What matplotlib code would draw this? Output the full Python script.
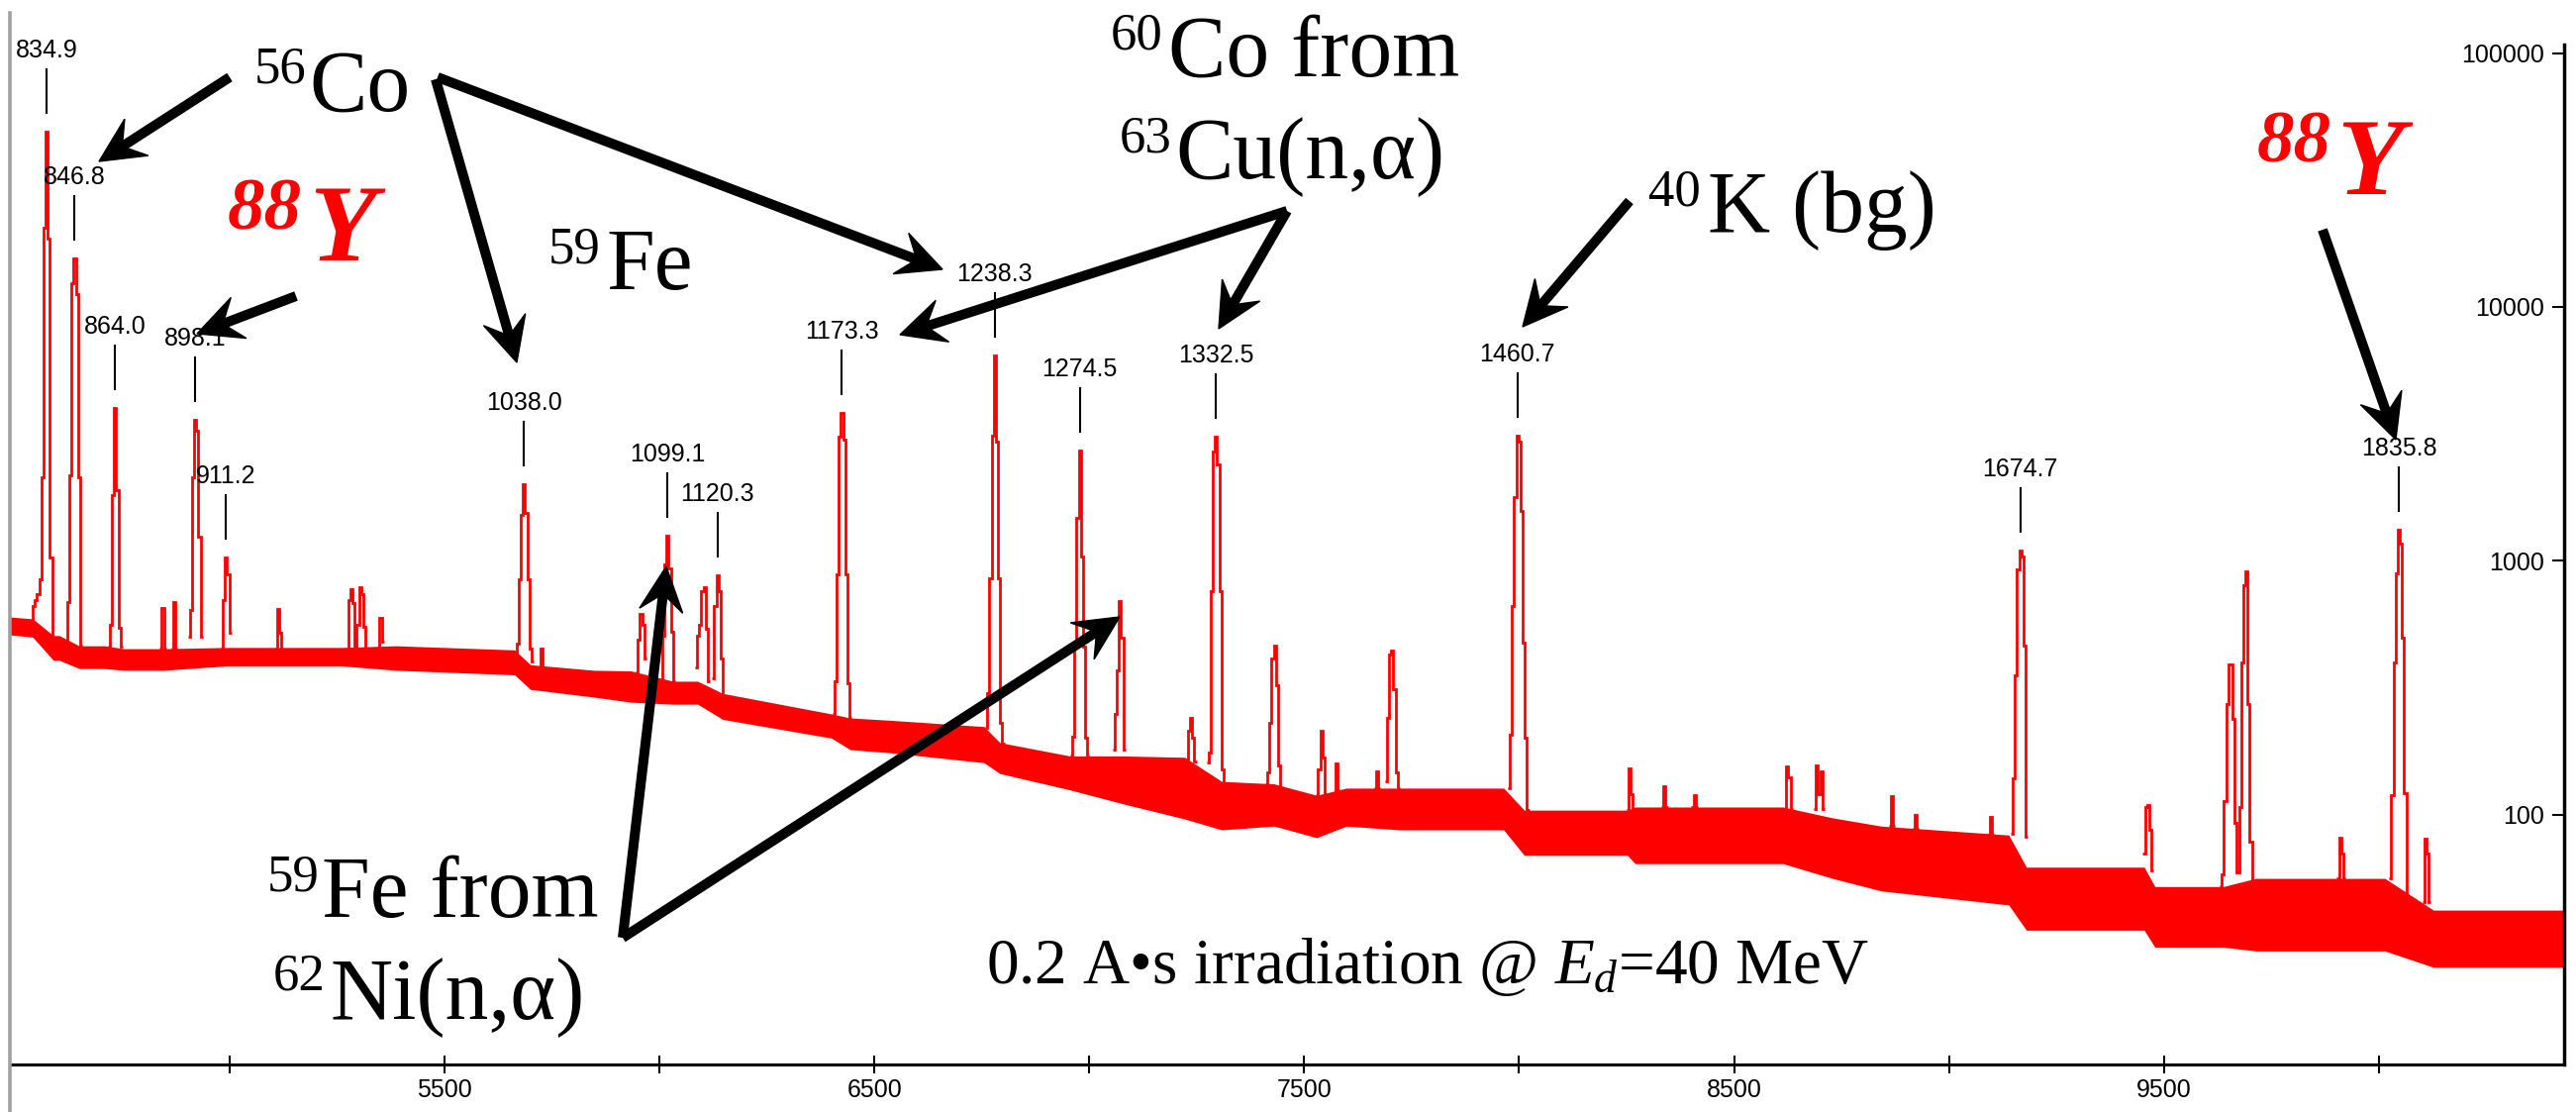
#!/usr/bin/env python
# Filename: plot.py
"""
introduction: redraw of a gamma spectrum (log counts vs channel) with peak
energies and nuclide annotations, values read off the reference picture.
"""

import numpy as np
import matplotlib
matplotlib.use('Agg')
import matplotlib.pyplot as plt
from matplotlib.patches import Polygon
from matplotlib.lines import Line2D
from matplotlib.ticker import NullLocator

plt.rcParams['font.family'] = ['Liberation Sans', 'DejaVu Sans']
plt.rcParams['mathtext.fontset'] = 'custom'
plt.rcParams['mathtext.rm'] = 'Liberation Serif'
plt.rcParams['mathtext.it'] = 'Liberation Serif:italic'

W, H = 2602, 1123   # output size in pixels

# energy calibration read from the labelled peaks: channel = GAIN*E + OFFSET
GAIN = 5.4668
OFFSET = 10.5
BIN = 5             # channels per displayed step

# continuum: channel, lower and upper edge of the noise band (counts)
bg_chan = [4489, 4542, 4590, 4604, 4650, 4708, 4754, 4846, 4995, 5260,
           5387, 5663, 5700, 5848, 5933, 6032, 6089, 6147, 6400, 6444,
           6538, 6755, 6792, 6955, 7080, 7222, 7308, 7430, 7529, 7598,
           7722, 7964, 8012, 8252, 8270, 8614, 8729, 8842, 9139, 9180,
           9454, 9479, 9638, 9714, 10014, 10127, 10431]
bg_low = [510, 500, 405, 405, 376, 376, 370, 370, 385, 385,
          370, 355, 311, 290, 277, 272, 272, 237, 200, 180,
          175, 160, 145, 125, 110, 96, 87, 90, 81, 90,
          87, 87, 69, 69, 64, 64, 56, 50, 44, 35,
          35, 30, 30, 29, 29, 25, 25]
bg_high = [600, 590, 507, 507, 462, 462, 450, 450, 455, 455,
           462, 445, 389, 370, 368, 335, 335, 300, 249, 240,
           235, 222, 192, 170, 170, 168, 135, 132, 119, 127,
           127, 127, 104, 104, 107, 107, 97, 90, 83, 62,
           62, 52, 52, 56, 56, 42, 42]

# peaks: energy of the highest step (keV) and the counts of each step
peak_energy = [834.9, 846.8, 864.0, 884.3, 889.1, 898.1, 911.2, 933.4, 968.2, 977.0,
               1038.0, 1045.3, 1087.8, 1099.1, 1114.8, 1120.3, 1173.3, 1238.3, 1274.5, 1291.6,
               1321.9, 1332.5, 1357.5, 1377.3, 1383.6, 1401.0, 1407.5, 1460.7, 1508.5, 1523.3,
               1536.1, 1575.6, 1588.2, 1620.0, 1630.1, 1662.1, 1674.7, 1729.1, 1771.0, 1810.8,
               1835.8, 1847.1]
peak_counts = [
    [560, 660, 700, 738, 843, 2140, 20500, 49200, 18600, 1030, 457],
    [460, 690, 2170, 12400, 15500, 11200, 2140, 462],
    [460, 560, 1810, 4010, 1900, 543, 460],
    [450, 651, 450],
    [450, 690, 450],
    [500, 638, 2140, 3590, 3240, 1240, 500],
    [450, 700, 1030, 880, 520],
    [450, 645, 520, 450],
    [450, 700, 775, 680, 450, 558, 787, 738, 547, 430],
    [440, 594, 480],
    [420, 470, 843, 1510, 2000, 1540, 843, 450, 400],
    [380, 450, 370],
    [364, 490, 617, 558, 410],
    [330, 505, 968, 1250, 935, 523, 335],
    [380, 505, 558, 760, 787, 540, 335],
    [345, 662, 875, 760, 411, 288],
    [249, 335, 883, 3070, 3830, 3010, 883, 330, 240],
    [220, 300, 850, 3120, 6460, 2950, 850, 230, 190],
    [170, 203, 460, 1480, 2720, 1040, 457, 200, 170],
    [180, 250, 368, 692, 498, 180],
    [165, 214, 241, 200, 162],
    [160, 176, 760, 2690, 3090, 2400, 760, 150, 120],
    [132, 146, 229, 410, 462, 324, 156, 119],
    [119, 150, 214, 168, 120],
    [120, 159, 125],
    [127, 148, 127],
    [135, 241, 425, 443, 311, 146, 127],
    [127, 206, 665, 1785, 3120, 2950, 1570, 475, 200, 104],
    [104, 152, 120, 104],
    [107, 129, 107],
    [107, 119, 107],
    [105, 154, 140, 105],
    [105, 156, 120, 148, 105],
    [90, 118, 90],
    [88, 100, 88],
    [83, 98, 83],
    [84, 139, 352, 920, 1097, 1038, 462, 82],
    [70, 107, 109, 87, 60],
    [52, 58, 113, 272, 389, 389, 237, 93, 59, 107, 398, 802, 907, 272, 78, 55],
    [56, 81, 70, 56],
    [56, 119, 398, 890, 1325, 1170, 498, 121, 45],
    [45, 80, 70, 45],
]

# peaks that carry an energy label in the picture
label_energy = [834.9, 846.8, 864.0, 898.1, 911.2, 1038.0, 1099.1, 1120.3,
                1173.3, 1238.3, 1274.5, 1332.5, 1460.7, 1674.7, 1835.8]

x_ticks = [5000, 5500, 6000, 6500, 7000, 7500, 8000, 8500, 9000, 9500, 10000]
x_tick_labels = ['', '5500', '', '6500', '', '7500', '', '8500', '', '9500', '']
y_ticks = [100, 1000, 10000, 100000]
y_tick_labels = ['100', '1000', '10000', '100000']

x_range = (4489, 10431)
y_range = (10.35, 1.08e5)


def to_fig(px, py):
    # pixel position (y down from top) -> figure fraction
    return px / W, 1 - py / H


def stealth_arrow(fig, tail, tip, lw_px=10, head_len=45, head_hw=22):
    t = np.array(tail, float)
    p = np.array(tip, float)
    d = (p - t) / np.hypot(*(p - t))
    n = np.array([-d[1], d[0]])
    base = p - d * head_len
    notch = p - d * head_len * 0.62
    pts = [to_fig(*q) for q in (p, base + n * head_hw, notch, base - n * head_hw)]
    fig.add_artist(Polygon(pts, closed=True, transform=fig.transFigure,
                           fc='black', ec='black', lw=1, zorder=5))
    a = to_fig(*t)
    b = to_fig(*(notch + d * 2))
    fig.add_artist(Line2D([a[0], b[0]], [a[1], b[1]], transform=fig.transFigure,
                          color='black', lw=lw_px * 0.72, solid_capstyle='butt', zorder=5))


fig = plt.figure(figsize=(W / 100, H / 100), dpi=100)
ax = fig.add_axes([10 / W, 48 / H, 2580 / W, 1030 / H])
ax.set_yscale('log')
ax.set_xlim(*x_range)
ax.set_ylim(*y_range)

# continuum noise band
ax.fill_between(bg_chan, bg_low, bg_high, color='red', lw=0, zorder=1)

# peaks as step outlines
ppd = 1030 / np.log10(y_range[1] / y_range[0])   # pixels per decade
for energy, counts in zip(peak_energy, peak_counts):
    counts = np.array(counts, float)
    imax = int(np.argmax(counts))
    chan = GAIN * energy + OFFSET
    edges = chan + (np.arange(len(counts) + 1) - imax - 0.5) * BIN
    ax.stairs(counts, edges, baseline=None, color='red', lw=2.0, zorder=2)

    if energy in label_energy:
        top = counts.max()
        ax.plot([chan, chan], [top * 10 ** (19 / ppd), top * 10 ** (63 / ppd)],
                color='black', lw=1.5, zorder=3, clip_on=False)
        ax.text(chan, top * 10 ** (75 / ppd), '%.1f' % energy, ha='center', va='baseline',
                fontsize=18, color='black', zorder=3, clip_on=False)

# axes look
for side in ['top', 'left']:
    ax.spines[side].set_visible(False)
ax.spines['right'].set_linewidth(2.5)
ax.spines['bottom'].set_linewidth(2.2)

ax.set_xticks(x_ticks)
ax.set_xticklabels(x_tick_labels)
ax.tick_params(axis='x', direction='inout', length=13, width=1.5, pad=3.5, labelsize=18)

ax.yaxis.tick_right()
ax.set_yticks(y_ticks)
ax.set_yticklabels(y_tick_labels)
ax.yaxis.set_minor_locator(NullLocator())
ax.tick_params(axis='y', which='major', direction='in', length=9, width=1.5,
               pad=-14.4, labelsize=18, right=True, left=False,
               labelright=True, labelleft=False)
for lab in ax.get_yticklabels():
    lab.set_horizontalalignment('right')

# grey window border on the left
x0, y0 = to_fig(9.5, 13)
fig.add_artist(Line2D([x0, x0], [0, y0], transform=fig.transFigure,
                      color='#a0a0a0', lw=2.6))

# nuclide annotations: superscript mass number + symbol
big = 63
sup = 38
serif = 'Liberation Serif'
for s, px, py, size in [('56', 257, 83, sup), ('Co', 312, 112, big),
                        ('59', 554, 266, sup), ('Fe', 612, 292, big),
                        ('60', 1122, 50, sup), ('Co from', 1180, 77, big),
                        ('63', 1131, 153, sup), ('Cu(n,α)', 1187, 180, big),
                        ('40', 1665, 207, sup), ('K (bg)', 1725, 234, big),
                        ('59', 270, 899, sup), ('Fe from', 325, 926, big),
                        ('62', 276, 1000, sup), ('Ni(n,α)', 333, 1029, big)]:
    fx, fy = to_fig(px, py)
    fig.text(fx, fy, s, family=serif, fontsize=size, ha='left', va='baseline', zorder=6)

for s, px, py, size in [('88', 230, 232, 54), ('Y', 312, 263, 80),
                        ('88', 2280, 163, 54), ('Y', 2360, 196, 80)]:
    fx, fy = to_fig(px, py)
    fig.text(fx, fy, s, family=serif, fontsize=size, color='red', fontweight='bold',
             fontstyle='italic', ha='left', va='baseline', zorder=6)

fx, fy = to_fig(996, 993)
fig.text(fx, fy, '0.2 A\u2022s irradiation @ $E_d$=40 MeV', family=serif, fontsize=47,
         ha='left', va='baseline', zorder=6)

# arrows (tail, tip) in pixels
arrows = [((232, 78), (100, 163)),
          ((440, 80), (522, 366)),
          ((442, 78), (952, 272)),
          ((299, 299), (199, 337)),
          ((1300, 213), (909, 338)),
          ((1300, 213), (1231, 332)),
          ((1646, 203), (1538, 330)),
          ((2346, 232), (2420, 444)),
          ((629, 947), (673, 572)),
          ((629, 947), (1131, 623))]
for tail, tip in arrows:
    stealth_arrow(fig, tail, tip)

fig.savefig('out.png', dpi=100, facecolor='white')
